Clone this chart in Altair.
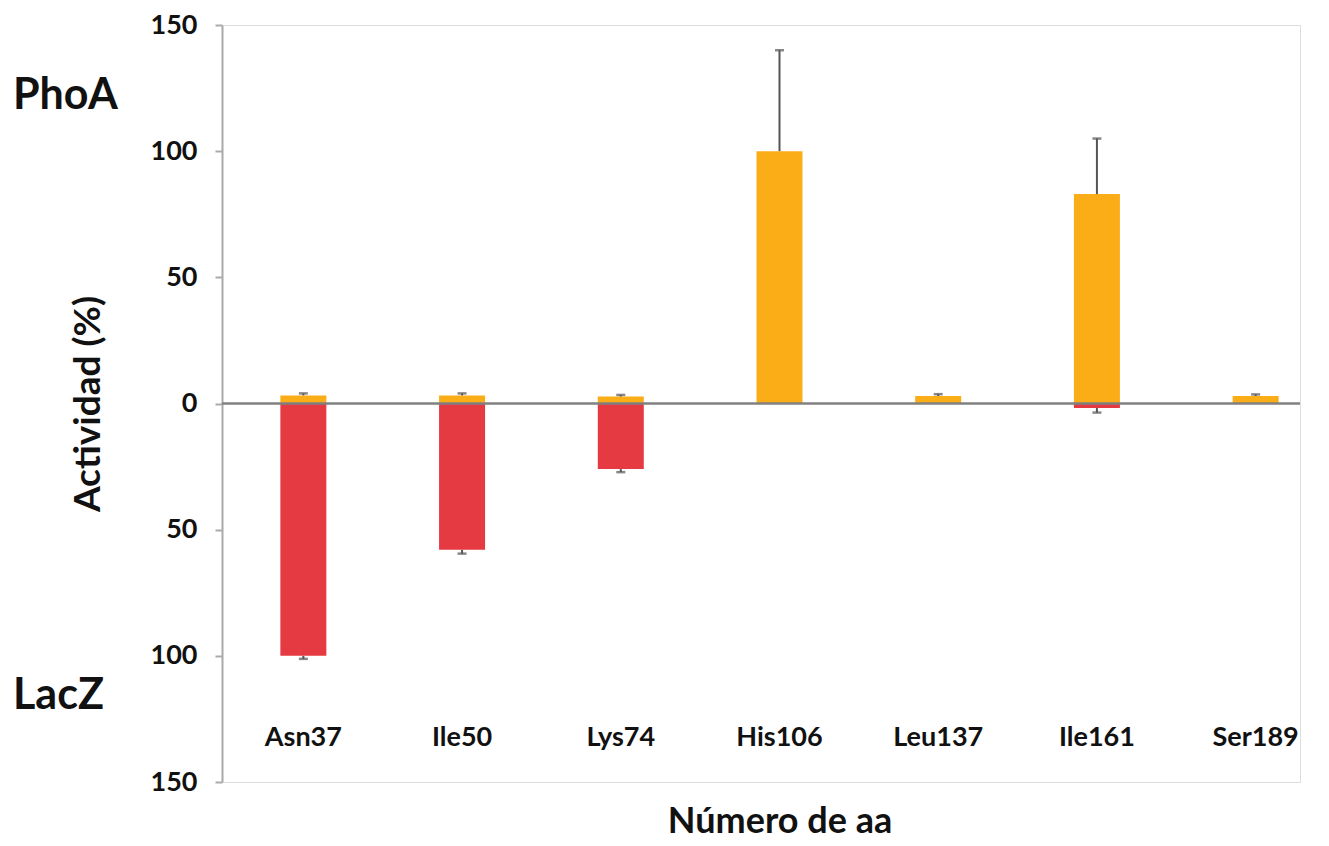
import altair as alt
import pandas as pd

categories = ["Asn37", "Ile50", "Lys74", "His106", "Leu137", "Ile161", "Ser189"]
phoa = [3.2, 3.2, 2.8, 100, 3.0, 83, 3.0]
phoa_err = [0.8, 0.8, 0.6, 40, 0.7, 22, 0.6]
lacz = [-100, -58, -26, 0, 0, -1.8, 0]
lacz_err = [1.2, 1.5, 1.2, 0, 0, 1.8, 0]

y_ticks = [-150, -100, -50, 0, 50, 100, 150]
side_labels = ["PhoA", "LacZ"]
side_y = [122, -116]

FONT = "Lato"
ORANGE = "#FBAD18"
RED = "#E63A42"
ERR = "#555555"

W, H = 1078, 757

df = pd.DataFrame({
    "cat": categories,
    "phoa": phoa,
    "phoa_hi": [v + e for v, e in zip(phoa, phoa_err)],
    "lacz": lacz,
    "lacz_lo": [v - e for v, e in zip(lacz, lacz_err)],
    "has_lacz": [v != 0 for v in lacz],
})
side_df = pd.DataFrame({"label": side_labels, "y": side_y})

x_enc = alt.X(
    "cat:N",
    sort=categories,
    scale=alt.Scale(range=[2, 1113], paddingInner=0, paddingOuter=0),
    axis=alt.Axis(
        title="Número de aa",
        orient="bottom",
        domain=False,
        ticks=False,
        labelPadding=0,
        offset=-58,
        labelAngle=0,
        labelFont=FONT,
        labelFontSize=27,
        labelFontWeight="bold",
        labelColor="#111111",
        labelBaseline="top",
        titleFont=FONT,
        titleFontSize=36,
        titleFontWeight="bold",
        titleColor="#111111",
        titleY=97,
        titleBaseline="middle",
    ),
)

y_scale = alt.Scale(domain=[-150, 150], nice=False)
y_axis = alt.Axis(
    title="Actividad (%)",
    values=y_ticks,
    labelExpr="abs(datum.value)",
    grid=False,
    domainColor="#AAAAAA",
    domainWidth=2,
    tickColor="#AAAAAA",
    tickWidth=2,
    tickSize=7,
    labelPadding=18,
    labelFont=FONT,
    labelFontSize=27,
    labelFontWeight="bold",
    labelColor="#111111",
    titleFont=FONT,
    titleFontSize=37,
    titleFontWeight="bold",
    titleColor="#111111",
    titleX=-134,
    titleY=H / 2,
    titleBaseline="middle",
    titleAngle=-90,
)

base = alt.Chart(df)

red_bars = base.mark_bar(color=RED, size=46).encode(
    x=x_enc,
    y=alt.Y("lacz:Q", scale=y_scale, axis=y_axis),
)
orange_bars = base.mark_bar(color=ORANGE, size=46).encode(
    x=alt.X("cat:N", sort=categories),
    y=alt.Y("phoa:Q"),
)

zero_rule = alt.Chart(pd.DataFrame({"z": [0]})).mark_rule(
    color="#808080", strokeWidth=2.5
).encode(
    y=alt.Y("z:Q"),
    x=alt.value(0),
    x2=alt.value(W),
)

err_up = base.mark_rule(color=ERR, strokeWidth=2).encode(
    x=alt.X("cat:N", sort=categories),
    y=alt.Y("phoa:Q"),
    y2="phoa_hi:Q",
)
cap_up = base.mark_tick(color=ERR, thickness=2.5, size=9).encode(
    x=alt.X("cat:N", sort=categories),
    y=alt.Y("phoa_hi:Q"),
)
lacz_df = df[df["has_lacz"]]
err_dn = alt.Chart(lacz_df).mark_rule(color=ERR, strokeWidth=2).encode(
    x=alt.X("cat:N", sort=categories),
    y=alt.Y("lacz:Q"),
    y2="lacz_lo:Q",
)
cap_dn = alt.Chart(lacz_df).mark_tick(color=ERR, thickness=2.5, size=9).encode(
    x=alt.X("cat:N", sort=categories),
    y=alt.Y("lacz_lo:Q"),
)

side_text = alt.Chart(side_df).mark_text(
    font=FONT, fontSize=43, fontWeight="bold", color="#111111",
    align="left", baseline="middle",
).encode(
    x=alt.value(-209),
    y=alt.Y("y:Q"),
    text="label:N",
)

chart = alt.layer(
    red_bars, orange_bars, zero_rule, err_up, cap_up, err_dn, cap_dn, side_text
).properties(
    width=W,
    height=H,
    autosize=alt.AutoSizeParams(type="none"),
    padding={"left": 214, "top": 17, "right": 20, "bottom": 64},
).configure_view(
    stroke=None
).configure(
    background="white"
)

chart.save("out.html", embed_options={"renderer": "svg", "actions": False})
